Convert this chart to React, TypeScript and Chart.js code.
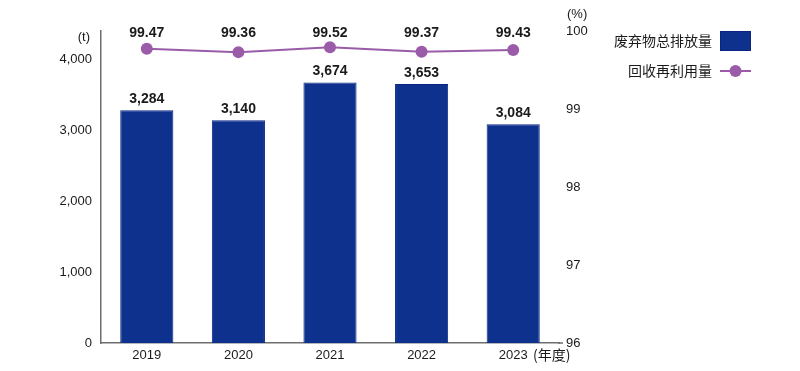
import React, { useEffect, useRef } from "react";
import { Chart, registerables } from "chart.js";

Chart.register(...registerables);

const years = ["2019", "2020", "2021", "2022", "2023"];
const wasteTotals = [3284, 3140, 3674, 3653, 3084];
const recycleRates = [99.47, 99.36, 99.52, 99.37, 99.43];
const leftTicks = [0, 1000, 2000, 3000, 4000];
const rightTicks = [96, 97, 98, 99, 100];
const wasteLabel = "废弃物总排放量";
const recycleLabel = "回收再利用量";
const leftUnit = "(t)";
const rightUnit = "(%)";
const xUnit = "(年度)";

const BAR_COLOR = "#0e318e";
const BAR_BORDER = "#0a2682";
const LINE_COLOR = "#9a5ca8";
const AXIS_COLOR = "#6e6e6e";
const TEXT_COLOR = "#1a1a1a";
const LATIN = '"Liberation Sans", Arial, sans-serif';
const CJK = '"Noto Sans CJK SC", "Noto Sans", sans-serif';

const overlayPlugin = {
  id: "overlay",
  afterDraw(chart: any) {
    const ctx = chart.ctx;
    const area = chart.chartArea;
    ctx.save();

    // extend x axis line a little past the plot
    ctx.strokeStyle = AXIS_COLOR;
    ctx.lineWidth = 1.5;
    ctx.beginPath();
    ctx.moveTo(area.right - 1, area.bottom);
    ctx.lineTo(area.right + 4, area.bottom);
    ctx.stroke();

    // bar value labels
    ctx.fillStyle = TEXT_COLOR;
    ctx.font = `bold 14px ${LATIN}`;
    ctx.textAlign = "center";
    ctx.textBaseline = "bottom";
    const barMeta = chart.getDatasetMeta(0);
    barMeta.data.forEach((el: any, i: number) => {
      ctx.fillText(wasteTotals[i].toLocaleString("en-US"), el.x, el.y - 4);
    });

    // line value labels (fixed row above the plot)
    ctx.textBaseline = "middle";
    const lineMeta = chart.getDatasetMeta(1);
    lineMeta.data.forEach((el: any, i: number) => {
      ctx.fillText(recycleRates[i].toFixed(2), el.x, area.top + 2);
    });

    // units
    ctx.font = `13px ${LATIN}`;
    ctx.textAlign = "right";
    ctx.fillText(leftUnit, area.left - 11, area.top + 6);
    ctx.textAlign = "left";
    ctx.fillText(rightUnit, area.right + 8, area.top - 17);
    ctx.font = `14px ${CJK}`;
    ctx.fillText(xUnit, area.right - 26, area.bottom + 12);

    // legend
    const boxX = 720;
    const boxW = 31;
    ctx.font = `14px ${CJK}`;
    ctx.textAlign = "right";
    ctx.fillStyle = TEXT_COLOR;
    ctx.fillText(wasteLabel, boxX - 8, 41);
    ctx.fillText(recycleLabel, boxX - 8, 71);
    ctx.fillStyle = BAR_COLOR;
    ctx.fillRect(boxX, 31, boxW, 20);
    ctx.strokeStyle = BAR_BORDER;
    ctx.lineWidth = 1;
    ctx.strokeRect(boxX + 0.5, 31.5, boxW - 1, 19);
    ctx.strokeStyle = LINE_COLOR;
    ctx.lineWidth = 2;
    ctx.beginPath();
    ctx.moveTo(boxX, 71);
    ctx.lineTo(boxX + boxW, 71);
    ctx.stroke();
    ctx.fillStyle = LINE_COLOR;
    ctx.beginPath();
    ctx.arc(boxX + boxW / 2, 71, 6, 0, Math.PI * 2);
    ctx.fill();

    ctx.restore();
  },
};

export default function App() {
  const ref = useRef<HTMLCanvasElement | null>(null);

  useEffect(() => {
    document.body.style.margin = "0";
    const canvas = ref.current;
    if (!canvas) return;
    const chart = new Chart(canvas, {
      data: {
        labels: years,
        datasets: [
          {
            type: "bar",
            label: wasteLabel,
            data: wasteTotals,
            backgroundColor: BAR_COLOR,
            borderColor: BAR_BORDER,
            borderWidth: 1,
            barPercentage: 0.58,
            categoryPercentage: 1,
            yAxisID: "y",
            order: 2,
          },
          {
            type: "line",
            label: recycleLabel,
            data: recycleRates,
            borderColor: LINE_COLOR,
            backgroundColor: LINE_COLOR,
            borderWidth: 2,
            pointRadius: 6,
            pointBorderWidth: 0,
            pointBackgroundColor: LINE_COLOR,
            tension: 0,
            yAxisID: "y2",
            order: 1,
          },
        ],
      } as any,
      options: {
        animation: false,
        responsive: false,
        maintainAspectRatio: false,
        layout: { padding: { top: 31, right: 201, bottom: 0, left: 0 } },
        plugins: {
          legend: { display: false },
          tooltip: { enabled: false },
        },
        scales: {
          x: {
            grid: { display: false, drawTicks: false },
            border: { display: true, color: AXIS_COLOR, width: 1.5 },
            ticks: {
              color: TEXT_COLOR,
              font: { family: LATIN, size: 13 },
              padding: 5,
              maxRotation: 0,
            },
            afterFit: (s: any) => {
              s.height = 28;
            },
          },
          y: {
            position: "left",
            min: 0,
            max: 4400,
            grid: { display: false, drawTicks: false },
            border: { display: true, color: AXIS_COLOR, width: 1.5 },
            afterBuildTicks: (s: any) => {
              s.ticks = leftTicks.map((v) => ({ value: v }));
            },
            ticks: {
              color: TEXT_COLOR,
              font: { family: LATIN, size: 13 },
              padding: 9,
              callback: (v: any) => Number(v).toLocaleString("en-US"),
            },
            afterFit: (s: any) => {
              s.width = 101;
            },
          },
          y1: {
            position: "right",
            min: 96,
            max: 100,
            grid: { display: false, drawTicks: false },
            border: { display: false },
            afterBuildTicks: (s: any) => {
              s.ticks = rightTicks.map((v) => ({ value: v }));
            },
            ticks: {
              color: TEXT_COLOR,
              font: { family: LATIN, size: 13 },
              padding: 7,
            },
            afterFit: (s: any) => {
              s.width = 40;
            },
          },
          y2: {
            display: false,
            min: 90,
            max: 100.04,
          },
        },
      } as any,
      plugins: [overlayPlugin],
    });
    return () => chart.destroy();
  }, []);

  return (
    <div style={{ width: 800, height: 371 }}>
      <canvas ref={ref} width={800} height={371} style={{ display: "block" }} />
    </div>
  );
}
